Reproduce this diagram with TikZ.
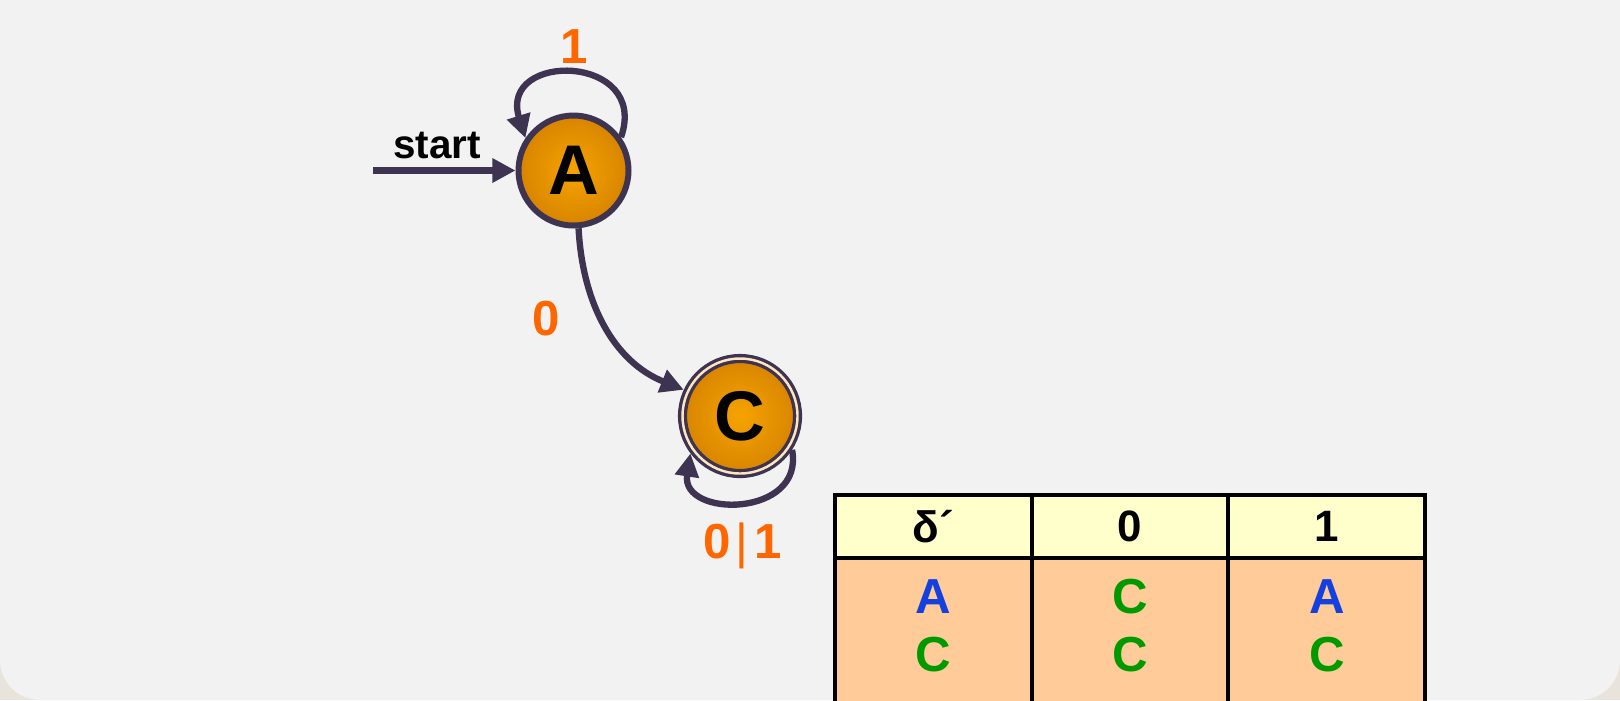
\documentclass[tikz,border=0pt]{standalone}
\usepackage{fontspec}
\setmainfont{Liberation Sans}
\usepackage{xcolor}
\usepackage{tikz}
\usetikzlibrary{shapes, arrows.meta, positioning}

\definecolor{edgecol}{HTML}{3E3452}
\definecolor{labelorange}{HTML}{FF6600}
\definecolor{stateinner}{HTML}{F6A300}
\definecolor{stateouter}{HTML}{D88500}
\definecolor{ringcol}{HTML}{FBE6C0}
\definecolor{headfill}{HTML}{FFFFCC}
\definecolor{bodyfill}{HTML}{FFCC99}
\definecolor{entryblue}{HTML}{1440E0}
\definecolor{entrygreen}{HTML}{009900}
\definecolor{slidebg}{HTML}{F2F2F2}
\definecolor{slideout}{HTML}{E8E4DC}

\tikzset{
    state/.style={circle, draw=edgecol, line width=1.7pt, inner color=stateinner, outer color=stateouter,
        minimum size=1.10cm, inner sep=0pt, font=\fontsize{20}{24}\selectfont\bfseries},
    accept/.style={state, line width=0.95pt, double=ringcol, double distance=0.7pt,
        minimum size=1.15cm, outer sep=1.3pt},
    edge/.style={draw=edgecol, line width=1.8pt, -{Triangle[length=6.6pt, width=6.6pt]}},
    lbl/.style={text=labelorange, inner sep=1pt, font=\fontsize{14}{16}\selectfont\bfseries},
    cell/.style={draw=black, line width=1.15pt, outer sep=0pt, inner sep=0pt, minimum width=1.967cm},
    headcell/.style={cell, fill=headfill, minimum height=0.63cm, font=\fontsize{12.5}{15}\selectfont\bfseries},
    bodycell/.style={cell, fill=bodyfill, minimum height=1.7cm},
    entry/.style={inner sep=0pt, text height=10pt, text depth=0pt, font=\fontsize{14}{16}\selectfont\bfseries}
}

\begin{document}
\begin{tikzpicture}
    \useasboundingbox (0,0) rectangle (16.2,7);
    \clip (0,0) rectangle (16.2,7);
    \fill[slideout] (0,0) rectangle (16.2,7);
    \fill[slidebg, rounded corners=0.4cm] (0,0) rectangle (16.2,7.6);

    % states
    \node[state] (A) at (5.735,5.295) {A};
    \node[accept] (C) at (7.40,2.84) {C};
    \coordinate (start) at (3.73,5.295);

    % transitions
    \draw[edge] (start) -- (A)
        node[pos=0.45, above=1.5pt, inner sep=1pt, font=\fontsize{11.5}{14}\selectfont\bfseries] {start};
    \draw[edge] (A.35) .. controls +(0.29,0.84) and +(-0.27,0.87) .. (A.146)
        node[lbl, pos=0.5, above=1pt] {1};
    \draw[edge] (A.275) to[out=-87, in=158] node[lbl, pos=0.45, left=3.5mm] {0} (C.155);
    \draw[edge] (C.327) .. controls +(0.13,-0.68) and +(-0.10,-0.65) .. (C.217)
        node[lbl, pos=0.5, below=4.3pt] {0\hspace{1.5pt}{\mdseries|}\hspace{1.5pt}1};

    % transition table
    \node[headcell] (h0) at (9.334,1.735) {δ´};
    \node[headcell, right=0pt of h0] (h1) {0};
    \node[headcell, right=0pt of h1] (h2) {1};
    \node[bodycell, below=0pt of h0] (b0) {};
    \node[bodycell, below=0pt of h1] (b1) {};
    \node[bodycell, below=0pt of h2] (b2) {};

    \node[entry, text=entryblue, below=5.5pt of b0.north] (b0a) {A};
    \node[entry, text=entrygreen, below=6.2pt of b0a] (b0c) {C};
    \node[entry, text=entrygreen, below=5.5pt of b1.north] (b1a) {C};
    \node[entry, text=entrygreen, below=6.2pt of b1a] (b1c) {C};
    \node[entry, text=entryblue, below=5.5pt of b2.north] (b2a) {A};
    \node[entry, text=entrygreen, below=6.2pt of b2a] (b2c) {C};
\end{tikzpicture}
\end{document}
